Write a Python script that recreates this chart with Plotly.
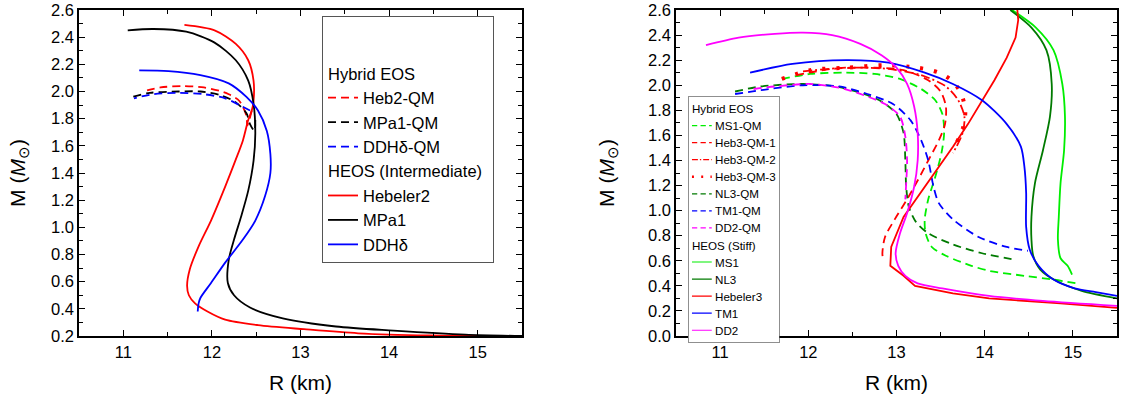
import plotly.graph_objects as go

# ---------------- Left panel data (R in km, M in solar masses) ----------------
heb2_qm_R = [12.45, 12.40, 12.39, 12.31, 12.19, 12.11, 11.91, 11.67, 11.42, 11.22]
heb2_qm_M = [1.86, 1.75, 1.82, 1.93, 1.98, 2.00, 2.03, 2.04, 2.03, 2.00]

mpa1_qm_R = [12.49, 12.48, 12.43, 12.39, 12.27, 12.11, 11.87, 11.63, 11.30, 11.10]
mpa1_qm_M = [1.79, 1.71, 1.76, 1.84, 1.92, 1.97, 2.00, 2.00, 1.99, 1.96]

ddh_qm_R = [12.43, 12.31, 12.15, 11.91, 11.63, 11.34, 11.12]
ddh_qm_M = [1.86, 1.90, 1.95, 1.98, 1.99, 1.98, 1.95]

hebeler2_R = [11.69, 12.03, 12.27, 12.41, 12.47, 12.47, 12.45, 12.41, 12.35, 12.27, 12.15,
              11.99, 11.85, 11.75, 11.72, 11.74, 11.81, 11.95, 12.15, 12.52, 13.04, 13.65,
              14.45, 15.5]
hebeler2_M = [2.49, 2.45, 2.35, 2.23, 2.08, 1.93, 1.86, 1.79, 1.64, 1.50, 1.30,
              1.05, 0.86, 0.69, 0.57, 0.50, 0.44, 0.38, 0.32, 0.28, 0.25, 0.22,
              0.204, 0.20]

mpa1_R = [11.05, 11.34, 11.71, 12.03, 12.27, 12.41, 12.47, 12.49, 12.47, 12.41, 12.33,
          12.25, 12.19, 12.18, 12.25, 12.43, 12.80, 13.40, 14.05, 14.86, 15.5]
mpa1_M = [2.45, 2.46, 2.44, 2.36, 2.23, 2.08, 1.91, 1.69, 1.49, 1.27, 1.08,
          0.91, 0.76, 0.59, 0.50, 0.41, 0.33, 0.27, 0.24, 0.21, 0.20]

ddh_R = [11.18, 11.51, 11.87, 12.19, 12.39, 12.52, 12.62, 12.66, 12.66, 12.60, 12.49,
         12.35, 12.15, 11.99, 11.87, 11.85, 11.84]
ddh_M = [2.155, 2.15, 2.12, 2.06, 1.96, 1.86, 1.71, 1.54, 1.40, 1.23, 1.05,
         0.91, 0.74, 0.59, 0.48, 0.44, 0.38]

# ---------------- Right panel data ----------------
ms1_qm_R = [11.70, 12.02, 12.43, 12.75, 13.04, 13.28, 13.44, 13.52, 13.54, 13.51, 13.44,
            13.36, 13.32, 13.33, 13.40, 13.56, 13.85, 14.05, 14.45, 14.78, 15.04]
ms1_qm_M = [2.05, 2.09, 2.10, 2.09, 2.05, 1.97, 1.88, 1.77, 1.62, 1.46, 1.27,
            1.09, 0.93, 0.82, 0.71, 0.64, 0.56, 0.52, 0.48, 0.45, 0.42]

heb3_qm1_R = [11.86, 12.27, 12.75, 13.08, 13.36, 13.50, 13.56, 13.55, 13.48, 13.36, 13.24,
              13.12, 12.98, 12.87, 12.84, 12.85]
heb3_qm1_M = [2.08, 2.13, 2.14, 2.12, 2.04, 1.95, 1.83, 1.69, 1.56, 1.40, 1.24,
              1.09, 0.93, 0.79, 0.66, 0.60]

heb3_qm2_R = [11.94, 12.43, 12.91, 13.28, 13.56, 13.70, 13.77, 13.75, 13.68, 13.64]
heb3_qm2_M = [2.11, 2.14, 2.13, 2.08, 1.99, 1.88, 1.75, 1.62, 1.51, 1.46]

heb3_qm3_R = [11.70, 12.02, 12.43, 12.87, 13.24, 13.48, 13.64, 13.74, 13.78, 13.75, 13.68]
heb3_qm3_M = [2.05, 2.12, 2.14, 2.16, 2.14, 2.10, 2.03, 1.92, 1.79, 1.65, 1.54]

nl3_qm_R = [11.17, 11.46, 11.94, 12.31, 12.63, 12.83, 13.00, 13.08, 13.10, 13.11, 13.14,
            13.22, 13.36, 13.64, 13.97, 14.33]
nl3_qm_M = [1.95, 1.99, 2.01, 1.99, 1.93, 1.87, 1.77, 1.62, 1.40, 1.19, 1.03,
            0.91, 0.82, 0.73, 0.66, 0.61]

tm1_qm_R = [11.17, 11.46, 11.94, 12.35, 12.67, 12.96, 13.16, 13.28, 13.36, 13.42, 13.48,
            13.64, 13.93, 14.25, 14.49]
tm1_qm_M = [1.93, 1.96, 2.00, 1.99, 1.93, 1.85, 1.72, 1.56, 1.40, 1.19, 1.06,
            0.93, 0.79, 0.71, 0.68]

dd2_qm_R = [11.38, 11.62, 12.02, 12.35, 12.63, 12.87, 13.04, 13.10, 13.12, 13.11, 13.10]
dd2_qm_M = [1.97, 1.99, 2.01, 1.98, 1.92, 1.85, 1.75, 1.59, 1.40, 1.22, 1.09]

ms1_R = [14.31, 14.58, 14.78, 14.88, 14.91, 14.90, 14.86, 14.84, 14.83, 14.86, 14.94, 14.99]
ms1_M = [2.60, 2.46, 2.28, 2.01, 1.75, 1.48, 1.22, 0.95, 0.77, 0.62, 0.56, 0.49]

nl3_R = [14.29, 14.53, 14.70, 14.76, 14.74, 14.66, 14.57, 14.53, 14.53, 14.55, 14.63,
         14.81, 15.10, 15.5]
nl3_M = [2.60, 2.46, 2.28, 2.01, 1.75, 1.48, 1.22, 0.95, 0.77, 0.64, 0.53,
         0.44, 0.36, 0.30]

hebeler3_R = [14.37, 14.38, 14.35, 14.25, 14.11, 13.97, 13.81, 13.64, 13.48, 13.28, 13.08,
              12.94, 12.93, 13.08, 13.21, 13.64, 14.05, 14.86, 15.5]
hebeler3_M = [2.60, 2.52, 2.38, 2.22, 2.04, 1.88, 1.69, 1.51, 1.35, 1.16, 0.95,
              0.71, 0.56, 0.48, 0.40, 0.34, 0.30, 0.26, 0.225]

tm1_R = [11.34, 11.82, 12.43, 12.91, 13.32, 13.64, 13.97, 14.25, 14.41, 14.45, 14.47,
         14.47, 14.51, 14.61, 14.78, 15.02, 15.26, 15.5]
tm1_M = [2.10, 2.17, 2.20, 2.18, 2.10, 2.01, 1.88, 1.69, 1.51, 1.35, 1.14,
         0.87, 0.69, 0.56, 0.45, 0.38, 0.35, 0.32]

dd2_R = [10.84, 11.21, 11.62, 11.94, 12.27, 12.59, 12.83, 13.00, 13.12, 13.20, 13.24,
         13.24, 13.20, 13.12, 13.04, 12.99, 13.02, 13.10, 13.24, 13.52, 14.05, 14.66, 15.5]
dd2_M = [2.32, 2.38, 2.41, 2.42, 2.40, 2.33, 2.24, 2.14, 2.01, 1.83, 1.62,
         1.40, 1.19, 0.98, 0.82, 0.66, 0.56, 0.48, 0.42, 0.38, 0.32, 0.28, 0.24]

x_ticks = [11, 12, 13, 14, 15]
y_ticks_left = [0.2, 0.4, 0.6, 0.8, 1.0, 1.2, 1.4, 1.6, 1.8, 2.0, 2.2, 2.4, 2.6]
y_ticks_right = [0.0, 0.2, 0.4, 0.6, 0.8, 1.0, 1.2, 1.4, 1.6, 1.8, 2.0, 2.2, 2.4, 2.6]

RED = "#ff0000"
BLACK = "#000000"
BLUE = "#0000ff"
LGREEN = "#00ee00"
DGREEN = "#007a00"
MAGENTA = "#ff00ff"
DASH = "8px,5px"
FONT = "Liberation Sans, Arial, sans-serif"

fig = go.Figure()


def add(R, M, name, color, dash, group, gtitle, xa, ya, legend, shape="spline", width=1.8):
    fig.add_trace(go.Scatter(
        x=R, y=M, mode="lines", name=name,
        line=dict(color=color, dash=dash, width=width, shape=shape, smoothing=0.8 if shape == "spline" else None),
        xaxis=xa, yaxis=ya, legend=legend,
        legendgroup=group, legendgrouptitle_text=gtitle,
    ))


# Left panel
add(heb2_qm_R, heb2_qm_M, "Heb2-QM", RED, DASH, "lh", "Hybrid EOS", "x", "y", "legend")
add(mpa1_qm_R, mpa1_qm_M, "MPa1-QM", BLACK, DASH, "lh", "Hybrid EOS", "x", "y", "legend")
add(ddh_qm_R, ddh_qm_M, "DDHδ-QM", BLUE, DASH, "lh", "Hybrid EOS", "x", "y", "legend")
add(hebeler2_R, hebeler2_M, "Hebeler2", RED, "solid", "ls", "HEOS (Intermediate)", "x", "y", "legend")
add(mpa1_R, mpa1_M, "MPa1", BLACK, "solid", "ls", "HEOS (Intermediate)", "x", "y", "legend")
add(ddh_R, ddh_M, "DDHδ", BLUE, "solid", "ls", "HEOS (Intermediate)", "x", "y", "legend")

# Right panel
add(ms1_qm_R, ms1_qm_M, "MS1-QM", LGREEN, DASH, "rh", "Hybrid EOS", "x2", "y2", "legend2")
add(heb3_qm1_R, heb3_qm1_M, "Heb3-QM-1", RED, DASH, "rh", "Hybrid EOS", "x2", "y2", "legend2")
add(heb3_qm2_R, heb3_qm2_M, "Heb3-QM-2", RED, "9px,3px,2px,3px", "rh", "Hybrid EOS", "x2", "y2", "legend2")
add(heb3_qm3_R, heb3_qm3_M, "Heb3-QM-3", RED, "3px,11px", "rh", "Hybrid EOS", "x2", "y2", "legend2", width=4)
add(nl3_qm_R, nl3_qm_M, "NL3-QM", DGREEN, DASH, "rh", "Hybrid EOS", "x2", "y2", "legend2")
add(tm1_qm_R, tm1_qm_M, "TM1-QM", BLUE, DASH, "rh", "Hybrid EOS", "x2", "y2", "legend2")
add(dd2_qm_R, dd2_qm_M, "DD2-QM", MAGENTA, DASH, "rh", "Hybrid EOS", "x2", "y2", "legend2")
add(ms1_R, ms1_M, "MS1", LGREEN, "solid", "rs", "HEOS (Stiff)", "x2", "y2", "legend2")
add(nl3_R, nl3_M, "NL3", DGREEN, "solid", "rs", "HEOS (Stiff)", "x2", "y2", "legend2")
add(hebeler3_R, hebeler3_M, "Hebeler3", RED, "solid", "rs", "HEOS (Stiff)", "x2", "y2", "legend2", shape="linear")
add(tm1_R, tm1_M, "TM1", BLUE, "solid", "rs", "HEOS (Stiff)", "x2", "y2", "legend2")
add(dd2_R, dd2_M, "DD2", MAGENTA, "solid", "rs", "HEOS (Stiff)", "x2", "y2", "legend2")

W, H = 1123, 405


def fx(px):
    return px / W


def fy(py):
    return 1 - py / H


left_dom = [fx(79), fx(522)]
right_dom = [fx(676), fx(1117)]
y_dom = [fy(336), fy(10)]

common_axis = dict(
    showline=True, linecolor="black", linewidth=1.5, mirror="ticks",
    ticks="inside", ticklen=6, tickwidth=1.2, tickcolor="black",
    showgrid=False, zeroline=False, ticklabeloverflow="allow",
    tickfont=dict(family=FONT, size=16.5, color="black"),
)

xaxis_common = dict(common_axis, range=[10.5, 15.5], tickvals=x_ticks,
                    minor=dict(dtick=0.5, tick0=10.5, ticks="inside", ticklen=4, tickcolor="black", tickwidth=1),
                    title=dict(text="R (km)", font=dict(family=FONT, size=21, color="black"), standoff=16))

ytitle = "M (<i>M</i><sub>⊙</sub>)"

# right legend is drawn compact (scaled) to match the reference row pitch
S2 = 0.66
LEG2_X, LEG2_Y = 688, 96

fig.update_layout(
    width=W, height=H,
    margin=dict(l=0, r=0, t=0, b=0),
    paper_bgcolor="white", plot_bgcolor="white",
    font=dict(family=FONT, color="black"),
    xaxis=dict(xaxis_common, domain=left_dom, anchor="y", automargin=False),
    yaxis=dict(common_axis, domain=y_dom, anchor="x", range=[0.2, 2.6], tickvals=y_ticks_left,
               tickformat=".1f", automargin=False,
               minor=dict(dtick=0.1, tick0=0.2, ticks="inside", ticklen=4, tickcolor="black", tickwidth=1),
               title=dict(text=ytitle, font=dict(family=FONT, size=21, color="black"), standoff=20)),
    xaxis2=dict(xaxis_common, domain=right_dom, anchor="y2", automargin=False),
    yaxis2=dict(common_axis, domain=y_dom, anchor="x2", range=[0.0, 2.6], tickvals=y_ticks_right,
                tickformat=".1f", automargin=False,
                minor=dict(dtick=0.1, tick0=0.0, ticks="inside", ticklen=4, tickcolor="black", tickwidth=1),
                title=dict(text=ytitle, font=dict(family=FONT, size=21, color="black"), standoff=28)),
    legend=dict(
        x=fx(322), y=fy(16), xanchor="left", yanchor="top",
        bgcolor="white", bordercolor="#555555", borderwidth=1,
        font=dict(family=FONT, size=16.5, color="black"),
        grouptitlefont=dict(family=FONT, size=16.5, color="black"),
        tracegroupgap=0, traceorder="grouped",
        title=dict(text=" ", font=dict(size=30)),
    ),
    legend2=dict(
        x=fx(688), y=1, xanchor="left", yanchor="top",
        bgcolor="white", bordercolor="#555555", borderwidth=1,
        font=dict(family=FONT, size=11.6 / S2, color="black"),
        grouptitlefont=dict(family=FONT, size=11.6 / S2, color="black"),
        tracegroupgap=0, traceorder="grouped",
    ),
)

post = """
document.body.style.margin = '0px';
var gd = document.getElementById('{plot_id}');
var g = gd.querySelector('g.legend2');
if (g) { g.setAttribute('transform', 'translate(%d,%d) scale(%s)'); }
""" % (LEG2_X, LEG2_Y, S2)

fig.write_html("out.html", post_script=post, config={"displayModeBar": False})
